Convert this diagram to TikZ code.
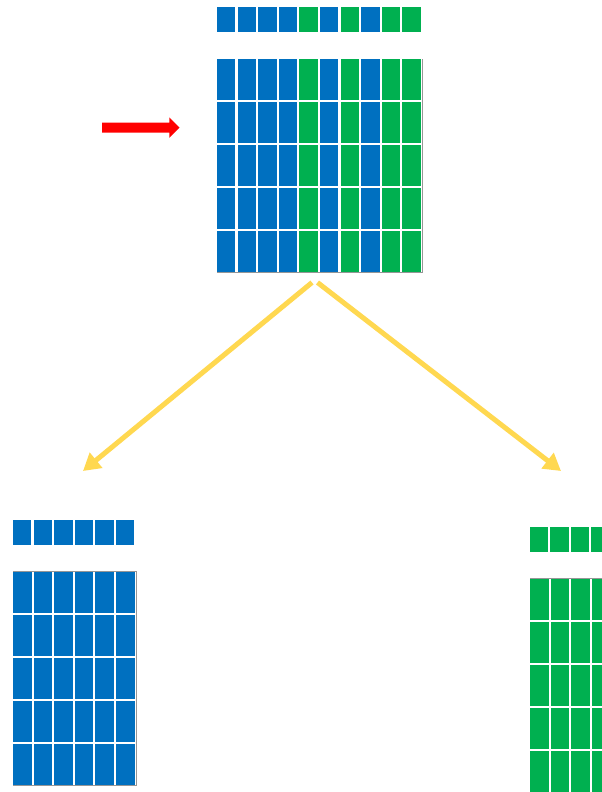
\documentclass[tikz,border=0pt]{standalone}
\usetikzlibrary{arrows.meta}
\definecolor{cblue}{RGB}{0,112,192}
\definecolor{cgreen}{RGB}{0,176,80}
\definecolor{cyellow}{RGB}{255,216,80}
\definecolor{cred}{RGB}{255,0,0}
\definecolor{cedge}{RGB}{150,150,150}
\tikzset{
  cellB/.style={fill=cblue, draw=none},
  cellG/.style={fill=cgreen, draw=none},
  gridedge/.style={draw=cedge, line width=0.9pt},
  splitarrow/.style={draw=cyellow, line width=5pt,
    -{Triangle[length=17pt,width=19pt]}},
}
\begin{document}
\begin{tikzpicture}[x=1pt,y=-1pt]
\useasboundingbox (0,0) rectangle (602,792);
\fill[white] (0,0) rectangle (602,792);

% ---- main matrix: 10 columns, header row + 5 rows
\foreach \c [count=\i from 0] in {B,B,B,B,G,B,G,B,G,G}{
  \fill[cell\c] (217+20.6*\i,7.5) rectangle ++(18.4,24.5);
  \foreach \j in {0,...,4}{
    \fill[cell\c] (217+20.6*\i,59+43*\j) rectangle ++(18.4,41);
  }
}
\draw[gridedge] (217,272.5) -- (422.3,272.5) -- (422.3,59);
\node[inner sep=0, minimum width=205pt, minimum height=214pt] (mainGrid) at (319.5,166) {};

% ---- incoming arrow
\fill[cred] (102,122.7) -- (169.3,122.7) -- (169.3,117.3) -- (179.5,127.7)
  -- (169.3,137.8) -- (169.3,132.7) -- (102,132.7) -- cycle;

% ---- left part: blue columns
\foreach \i in {0,...,5}{
  \fill[cellB] (13+20.6*\i,520) rectangle ++(18.4,24.5);
  \foreach \j in {0,...,4}{
    \fill[cellB] (13+20.6*\i,572+43*\j) rectangle ++(18.6,41);
  }
}
\draw[gridedge] (13,571.5) -- (136.3,571.5) -- (136.3,785.8) -- (13,785.8);
\node[inner sep=0, minimum width=124pt, minimum height=214pt] (leftGrid) at (74.5,679) {};

% ---- right part: green columns
\foreach \i in {0,...,3}{
  \fill[cellG] (529.5+20.6*\i,527) rectangle ++(18.4,25);
  \foreach \j in {0,...,4}{
    \fill[cellG] (530+20.6*\i,578.5+43*\j) rectangle ++(18.8,41);
  }
}
\draw[gridedge] (530,578) -- (602,578);
\node[inner sep=0, minimum width=72pt, minimum height=214pt] (rightGrid) at (566,685) {};

% ---- split arrows
\coordinate (splitL) at (312,282.5);
\coordinate (splitR) at (317.5,282.5);
\coordinate (toLeft) at (83,471);
\coordinate (toRight) at (561,471);
\draw[splitarrow] (splitL) -- (toLeft);
\draw[splitarrow] (splitR) -- (toRight);
\end{tikzpicture}
\end{document}
